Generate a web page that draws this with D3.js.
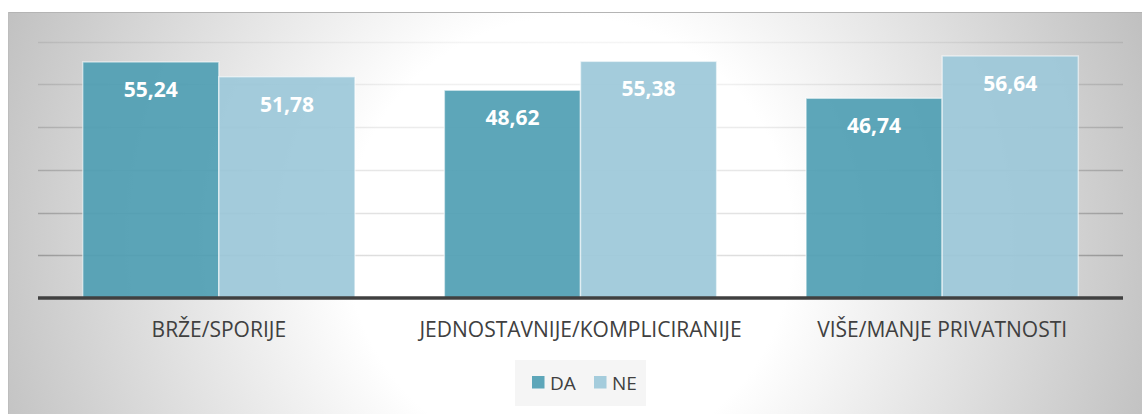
<!DOCTYPE html>
<html>
<head>
<meta charset="utf-8">
<script src="https://cdn.jsdelivr.net/npm/d3@7"></script>
<style>
  html, body { margin: 0; padding: 0; background: #ffffff; }
  svg { display: block; }
</style>
</head>
<body>
<svg id="chart"></svg>
<script>
var categories = ["BRŽE/SPORIJE", "JEDNOSTAVNIJE/KOMPLICIRANIJE", "VIŠE/MANJE PRIVATNOSTI"];
var seriesNames = ["DA", "NE"];
var daValues = [55.24, 48.62, 46.74];
var neValues = [51.78, 55.38, 56.64];
var yTicks = [10, 20, 30, 40, 50, 60];

var colors = { DA: "#4f9eb3", NE: "#9cc8d9" };

var width = 1142, height = 414;
var plot = { left: 38, right: 1123, top: 41.6, bottom: 298 };

var svg = d3.select("#chart")
    .attr("width", width)
    .attr("height", height);

var defs = svg.append("defs");

// radial background like the office chart fill
var bgGrad = defs.append("radialGradient")
    .attr("id", "bgGrad")
    .attr("gradientUnits", "userSpaceOnUse")
    .attr("cx", 570).attr("cy", 240).attr("r", 620);
bgGrad.append("stop").attr("offset", "0").attr("stop-color", "#ffffff");
bgGrad.append("stop").attr("offset", "0.36").attr("stop-color", "#ffffff");
bgGrad.append("stop").attr("offset", "0.95").attr("stop-color", "#c4c4c4");
bgGrad.append("stop").attr("offset", "1").attr("stop-color", "#bfbfbf");

var gridGrad = defs.append("radialGradient")
    .attr("id", "gridGrad")
    .attr("gradientUnits", "userSpaceOnUse")
    .attr("cx", 570).attr("cy", 240).attr("r", 620);
gridGrad.append("stop").attr("offset", "0").attr("stop-color", "#e2e2e2");
gridGrad.append("stop").attr("offset", "0.36").attr("stop-color", "#dddddd");
gridGrad.append("stop").attr("offset", "0.95").attr("stop-color", "#8e8e8e");

svg.append("rect")
    .attr("x", 8).attr("y", 12)
    .attr("width", width - 8).attr("height", height - 12)
    .attr("fill", "url(#bgGrad)");

svg.append("line")
    .attr("x1", 8).attr("x2", width)
    .attr("y1", 12.5).attr("y2", 12.5)
    .attr("stroke", "#b4b4b4").attr("stroke-width", 1);
svg.append("line")
    .attr("x1", 8.5).attr("x2", 8.5)
    .attr("y1", 12).attr("y2", height)
    .attr("stroke", "#bdbdbd").attr("stroke-width", 1);

var x0 = d3.scaleBand()
    .domain(categories)
    .range([plot.left, plot.right])
    .padding(0);

var groupPad = x0.bandwidth() * 0.1236;
var x1 = d3.scaleBand()
    .domain(seriesNames)
    .range([groupPad, x0.bandwidth() - groupPad])
    .padding(0);

var y = d3.scaleLinear()
    .domain([0, 60])
    .range([plot.bottom, plot.top]);

// gridlines get lighter toward the top
var gridOpacity = d3.scaleLinear().domain([10, 60]).range([1, 0.3]);

svg.append("g")
    .selectAll("line")
    .data(yTicks)
    .enter()
    .append("line")
    .attr("x1", plot.left).attr("x2", plot.right)
    .attr("y1", d => Math.round(y(d)) + 0.5)
    .attr("y2", d => Math.round(y(d)) + 0.5)
    .attr("stroke", "url(#gridGrad)")
    .attr("stroke-opacity", d => gridOpacity(d))
    .attr("stroke-width", 1.3);

var rows = categories.map((c, i) => ({ cat: c, vals: [
    { key: "DA", value: daValues[i] },
    { key: "NE", value: neValues[i] }
]}));

var groups = svg.append("g")
    .selectAll("g")
    .data(rows)
    .enter()
    .append("g")
    .attr("transform", d => "translate(" + x0(d.cat) + ",0)");

groups.selectAll("rect")
    .data(d => d.vals)
    .enter()
    .append("rect")
    .attr("x", d => x1(d.key))
    .attr("y", d => y(d.value))
    .attr("width", x1.bandwidth())
    .attr("height", d => y(0) - y(d.value))
    .attr("fill", d => colors[d.key])
    .attr("fill-opacity", 0.92)
    .attr("stroke", "rgba(255,255,255,0.55)")
    .attr("stroke-width", 1.5);

groups.selectAll("text")
    .data(d => d.vals)
    .enter()
    .append("text")
    .attr("x", d => x1(d.key) + x1.bandwidth() / 2)
    .attr("y", d => y(d.value) + 35)
    .attr("text-anchor", "middle")
    .style("font-family", "'Open Sans', sans-serif")
    .style("font-weight", "bold")
    .style("font-size", "21px")
    .style("fill", "#ffffff")
    .text(d => d3.format(".2f")(d.value).replace(".", ","));

// baseline
svg.append("line")
    .attr("x1", plot.left).attr("x2", plot.right)
    .attr("y1", y(0)).attr("y2", y(0))
    .attr("stroke", "#404040")
    .attr("stroke-width", 3.5);

// category labels
svg.append("g")
    .selectAll("text")
    .data(categories)
    .enter()
    .append("text")
    .attr("x", d => x0(d) + x0.bandwidth() / 2)
    .attr("y", plot.bottom + 39)
    .attr("text-anchor", "middle")
    .style("font-family", "'Open Sans', sans-serif")
    .style("font-size", "21px")
    .style("fill", "#404040")
    .text(d => d);

// legend
var legend = svg.append("g");
legend.append("rect")
    .attr("x", 515).attr("y", 360)
    .attr("width", 131).attr("height", 46)
    .attr("fill", "#f3f3f3")
    .attr("fill-opacity", 0.85);

var legendItems = legend.selectAll("g")
    .data(seriesNames)
    .enter()
    .append("g")
    .attr("transform", (d, i) => "translate(" + (532 + i * 62) + ",376)");

legendItems.append("rect")
    .attr("width", 12.5).attr("height", 12.5)
    .attr("fill", d => colors[d])
    .attr("fill-opacity", 0.92);

legendItems.append("text")
    .attr("x", 18)
    .attr("y", 14)
    .style("font-family", "'Open Sans', sans-serif")
    .style("font-size", "19px")
    .style("fill", "#404040")
    .text(d => d);
</script>
</body>
</html>
